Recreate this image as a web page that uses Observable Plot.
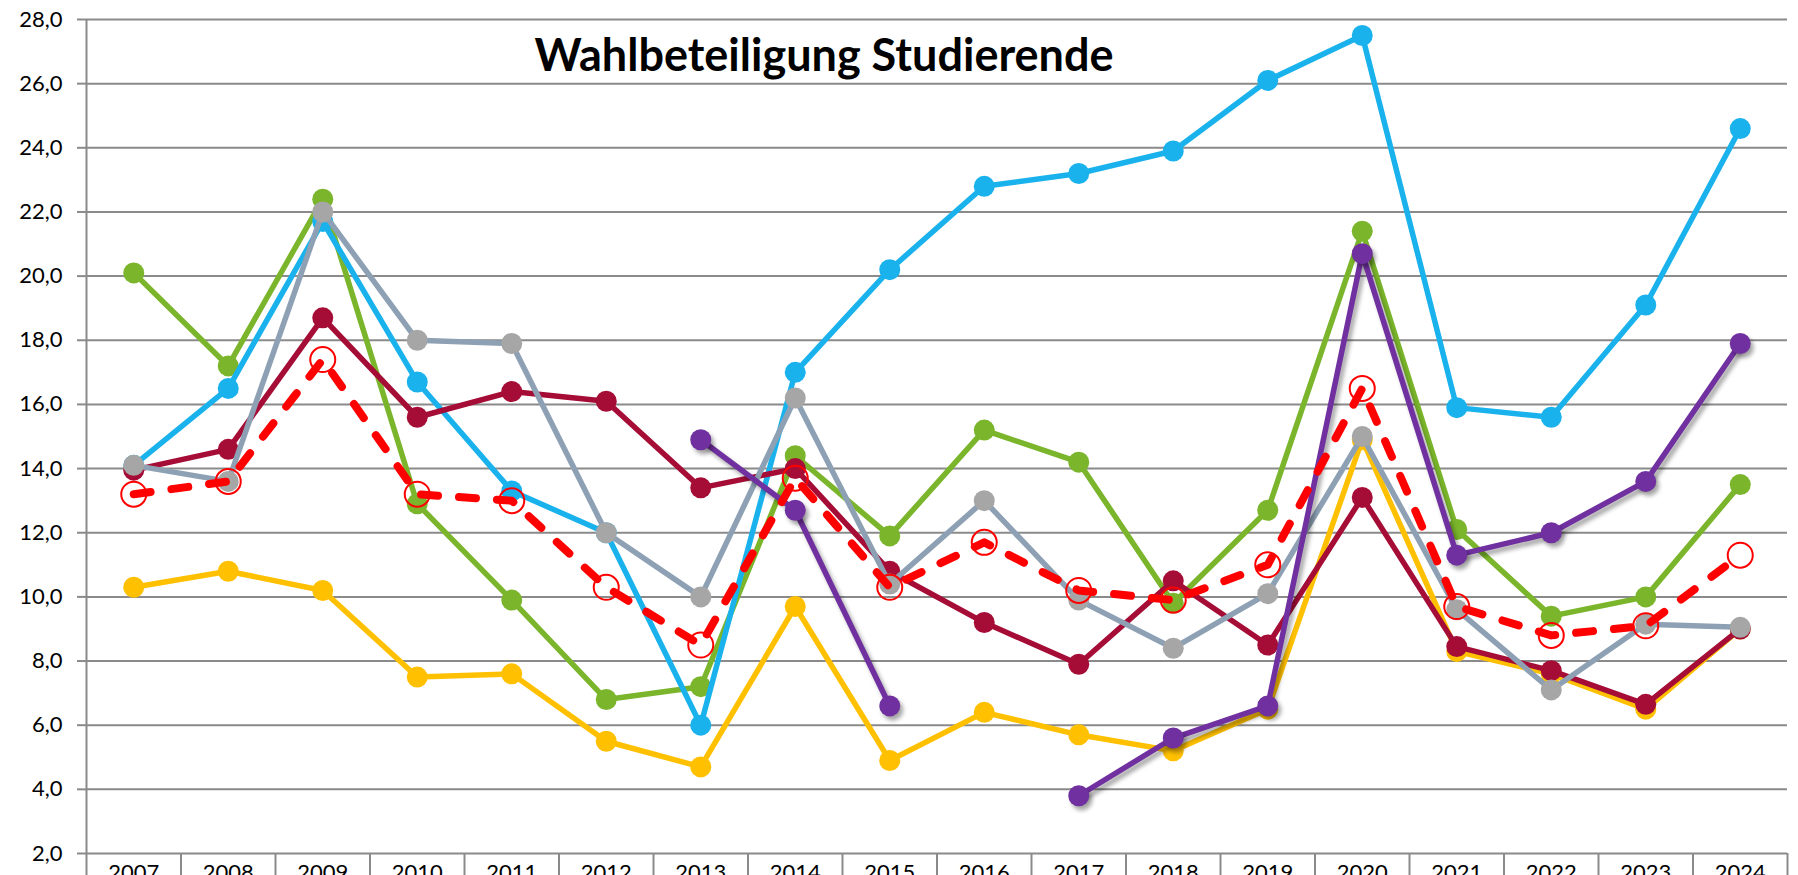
<!DOCTYPE html>
<html>
<head>
<meta charset="utf-8">
<script src="https://cdn.jsdelivr.net/npm/d3@7"></script>
<script src="https://cdn.jsdelivr.net/npm/@observablehq/plot@0.6"></script>
<style>
  html, body { margin: 0; padding: 0; background: #fff; overflow: hidden; }
  #chart svg { display: block; }
</style>
</head>
<body>
<div id="chart"></div>
<script>
const titleText = "Wahlbeteiligung Studierende";
const years = [2007,2008,2009,2010,2011,2012,2013,2014,2015,2016,2017,2018,2019,2020,2021,2022,2023,2024];
const yTicks = [2,4,6,8,10,12,14,16,18,20,22,24,26,28];

const yellowVals = [10.3,10.8,10.2,7.5,7.6,5.5,4.7,9.7,4.9,6.4,5.7,5.2,6.5,14.9,8.3,7.6,6.5,9.0];
const greenVals  = [20.1,17.2,22.4,12.9,9.9,6.8,7.2,14.4,11.9,15.2,14.2,9.8,12.7,21.4,12.1,9.4,10.0,13.5];
const cyanVals   = [14.1,16.5,21.7,16.7,13.3,12.0,6.0,17.0,20.2,22.8,23.2,23.9,26.1,27.5,15.9,15.6,19.1,24.6];
const redVals    = [13.95,14.6,18.7,15.6,16.4,16.1,13.4,14.0,10.8,9.2,7.9,10.5,8.5,13.1,8.45,7.7,6.65,9.0];
const grayVals   = [14.1,13.6,22.0,18.0,17.9,12.0,10.0,16.2,10.4,13.0,9.9,8.4,10.1,15.0,9.6,7.1,9.15,9.05];
const purpleVals = [null,null,null,null,null,null,14.9,12.7,6.6,null,3.8,5.6,6.6,20.7,11.3,12.0,13.6,17.9];
const avgVals    = [13.2,13.6,17.4,13.2,13.0,10.3,8.5,13.7,10.3,11.7,10.2,9.9,11.0,16.5,9.7,8.8,9.1,11.3];

const toRows = vals => years.map((year, i) => ({year, value: vals[i]}));

const seriesStyles = [
  {vals: yellowVals, line: "#FFC000", dot: "#FFC000"},
  {vals: greenVals,  line: "#7AB52B", dot: "#7AB52B"},
  {vals: cyanVals,   line: "#1AB2EC", dot: "#1AB2EC"},
  {vals: redVals,    line: "#A50D37", dot: "#A50D37"},
  {vals: grayVals,   line: "#8EA1B4", dot: "#A6A6A6"},
  {vals: purpleVals, line: "#7030A0", dot: "#7030A0", shadow: true}
];

const fmt = d => d.toFixed(1).replace(".", ",");
const FONT = "Lato, 'Open Sans', sans-serif";

const marks = [
  // horizontal gridlines
  Plot.ruleY(yTicks, {stroke: "#8a8a8a", strokeWidth: 2}),
  // y axis line (extends into the year table)
  Plot.ruleX([years[0] - 0.5], {y1: 28, y2: 0, stroke: "#8a8a8a", strokeWidth: 2}),
  // table separators below the axis
  Plot.ruleX(years, {x: d => d + 0.5, y1: 2, y2: 0, stroke: "#8a8a8a", strokeWidth: 2}),
  Plot.axisY({ticks: yTicks, tickFormat: fmt, tickSize: 9, tickPadding: 15, stroke: "#8a8a8a", strokeWidth: 2, fill: "#000", fontSize: 22, label: null}),
  Plot.axisX({ticks: years, tickFormat: d => String(d), tickSize: 0, tickPadding: 11, fill: "#000", fontSize: 22, label: null}),
  Plot.text([titleText], {frameAnchor: "top", dx: -113, dy: 37, lineAnchor: "middle", fontSize: 45, fontWeight: "bold", fill: "#000"})
];

for (const s of seriesStyles) {
  const rows = toRows(s.vals);
  const extra = s.shadow ? {ariaDescription: "shadowed"} : {};
  marks.push(Plot.line(rows, {x: "year", y: "value", stroke: s.line, strokeWidth: 5.5, ...extra}));
  marks.push(Plot.dot(rows.filter(r => r.value != null), {x: "year", y: "value", r: 10.5, fill: s.dot, stroke: "none", ...extra}));
}

const avgRows = toRows(avgVals);
marks.push(Plot.line(avgRows, {x: "year", y: "value", stroke: "#FF0000", strokeWidth: 8, strokeDasharray: "17,21", strokeLinecap: "round"}));
marks.push(Plot.dot(avgRows, {x: "year", y: "value", r: 12.5, fill: "none", stroke: "#FF0000", strokeWidth: 2}));

const plot = Plot.plot({
  width: 1798,
  height: 900,
  marginLeft: 86,
  marginRight: 11,
  marginTop: 19,
  marginBottom: 47,
  style: {fontFamily: FONT, background: "#fff"},
  x: {type: "linear", domain: [years[0] - 0.5, years[years.length - 1] + 0.5], axis: null},
  y: {domain: [2, 28], axis: null},
  marks
});

plot.querySelectorAll('[aria-description="shadowed"]').forEach(g => {
  g.setAttribute("style", "filter: drop-shadow(3px 4px 2px rgba(0,0,0,0.35))");
});

document.getElementById("chart").appendChild(plot);
</script>
</body>
</html>
